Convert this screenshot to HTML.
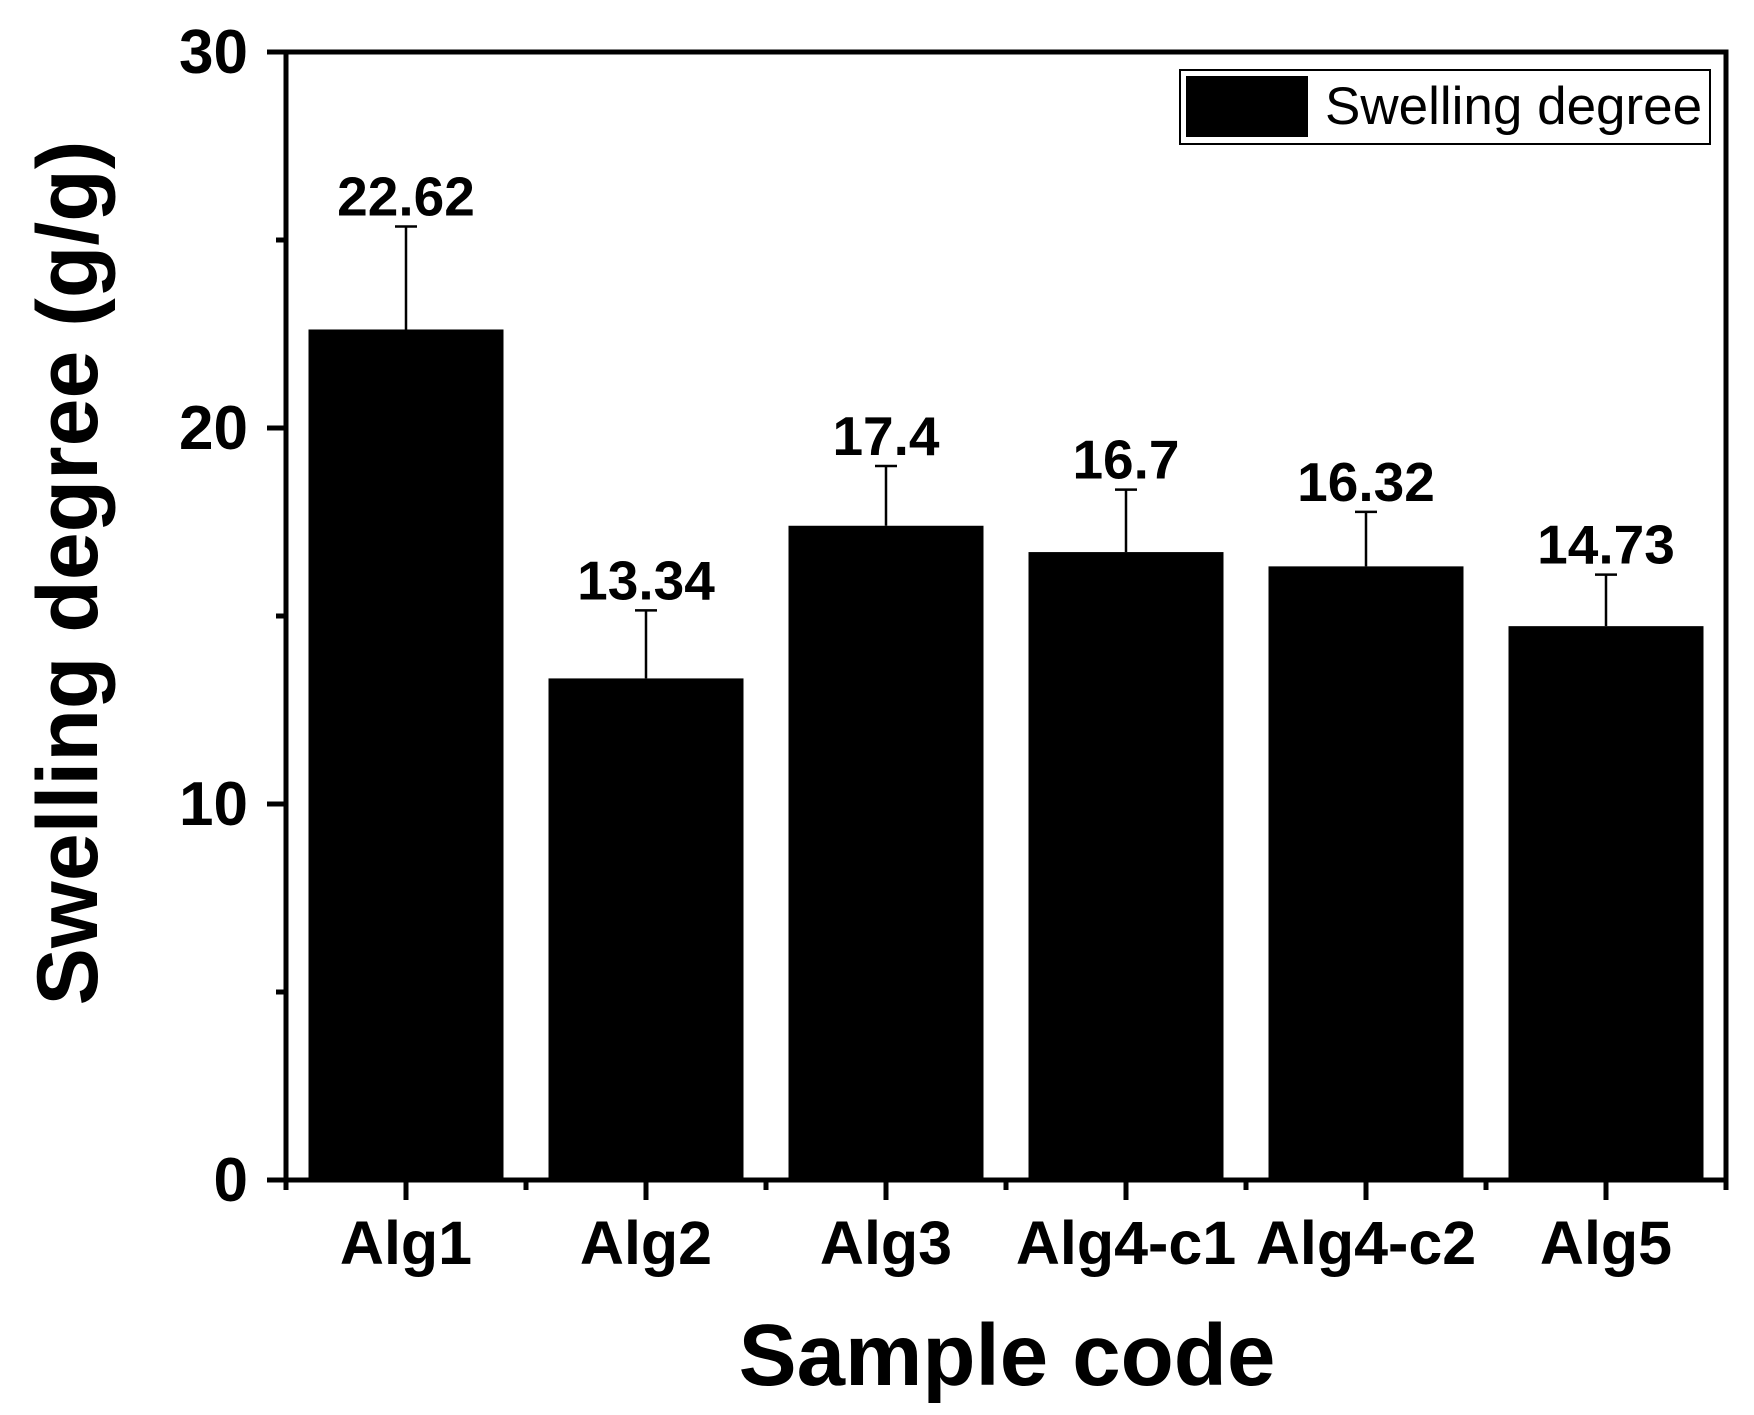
<!DOCTYPE html>
<html><head><meta charset="utf-8"><style>
html,body{margin:0;padding:0;background:#fff;}
svg{display:block;font-family:"Liberation Sans",Arial,sans-serif;}
</style></head><body>
<svg id="chart" width="1754" height="1415" viewBox="0 0 1754 1415"></svg>
<script>
const categories = ["Alg1","Alg2","Alg3","Alg4-c1","Alg4-c2","Alg5"];
const values = [22.62, 13.34, 17.4, 16.7, 16.32, 14.73];
const errors = [2.74, 1.81, 1.59, 1.66, 1.45, 1.37];
const valueLabels = ["22.62","13.34","17.4","16.7","16.32","14.73"];
const yTicks = [0, 10, 20, 30];
const yMinorTicks = [5, 15, 25];

const NS = "http://www.w3.org/2000/svg";
const svg = document.getElementById("chart");
const L = 286, R = 1726, T = 52, B = 1180, yMax = 30;
const band = (R - L) / categories.length;
const barW = 195;
function y(v){ return B - (v / yMax) * (B - T); }
function xc(i){ return L + band * (i + 0.5); }
function mk(tag, attrs, parent){
  const e = document.createElementNS(NS, tag);
  for (const k in attrs) e.setAttribute(k, attrs[k]);
  (parent || svg).appendChild(e);
  return e;
}

categories.forEach((c, i) => {
  const b = mk("rect", {x: xc(i) - barW/2, y: y(values[i]), width: barW, height: B - y(values[i]), fill: "#000"});
  
  
  const eb = mk("path", {d: `M${xc(i)},${y(values[i])}V${y(values[i]+errors[i])}M${xc(i)-11},${y(values[i]+errors[i])}H${xc(i)+11}`, stroke: "#000", "stroke-width": 2.5, fill: "none"});
  
  
  const t = mk("text", {x: xc(i), y: y(values[i]+errors[i]) - 11, "text-anchor": "middle", "font-size": 55, "font-weight": "bold"});
  t.textContent = valueLabels[i];
  
  
  const xl = mk("text", {x: xc(i), y: 1264, "text-anchor": "middle", "font-size": 61, "font-weight": "bold"});
  xl.textContent = c;
  
  
  const tk = mk("line", {x1: xc(i), x2: xc(i), y1: B, y2: B + 20, stroke: "#000", "stroke-width": 5});
  
  
});
for (let i = 0; i <= categories.length; i++) {
  const m = mk("line", {x1: L + band*i, x2: L + band*i, y1: B, y2: B + 10, stroke: "#000", "stroke-width": 5});
  
  
}

const frame = mk("rect", {x: L, y: T, width: R - L, height: B - T, fill: "none", stroke: "#000", "stroke-width": 5});



yTicks.forEach(v => {
  const tk = mk("line", {x1: L - 19, x2: L, y1: y(v), y2: y(v), stroke: "#000", "stroke-width": 5});
  
  
  const t = mk("text", {x: 248, y: y(v) + 21, "text-anchor": "end", "font-size": 62, "font-weight": "bold"});
  t.textContent = v;
  
  
});
yMinorTicks.forEach(v => {
  const tk = mk("line", {x1: L - 10, x2: L, y1: y(v), y2: y(v), stroke: "#000", "stroke-width": 5});
  
  
});

const yt = mk("text", {x: 0, y: 0, transform: "translate(97,573) rotate(-90)", "text-anchor": "middle", "font-size": 86, "font-weight": "bold"});
yt.textContent = "Swelling degree (g/g)";


const xt = mk("text", {x: 1007, y: 1385, "text-anchor": "middle", "font-size": 87, "font-weight": "bold"});
xt.textContent = "Sample code";



const lg = mk("g", {});


mk("rect", {x: 1180, y: 70, width: 530, height: 74, fill: "#fff", stroke: "#000", "stroke-width": 2}, lg);
const sw = mk("rect", {x: 1186, y: 76, width: 122, height: 61, fill: "#000"}, lg);


const lt = mk("text", {x: 1325, y: 124, "font-size": 53}, lg);
lt.textContent = "Swelling degree";


</script>
</body></html>
